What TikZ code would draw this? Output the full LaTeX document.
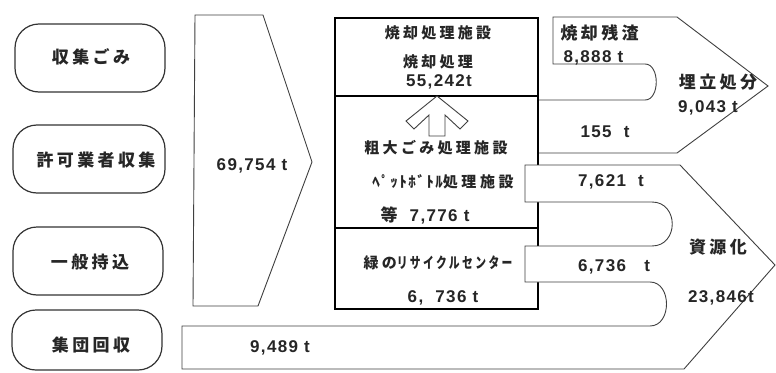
\documentclass[tikz,border=0pt]{standalone}
\usepackage{fontspec}
\setmainfont{Liberation Sans}
\newfontfamily\jp{Noto Sans CJK JP}
\begin{document}
\begin{tikzpicture}[x=1pt,y=-1pt,
  thin line/.style={draw=black!75, line width=0.9pt},
  pill/.style={draw=black!80, line width=1.2pt, rounded corners=24pt, inner sep=0pt},
  jplabel/.style={text=black!85, font={\fontsize{17}{20}\jp\bfseries\addfontfeature{LetterSpace=20}}},
  boxtext/.style={text=black!85, font={\fontsize{15}{18}\jp\bfseries\addfontfeature{LetterSpace=22}}},
  numtext/.style={text=black!85, font={\fontsize{17}{20}\selectfont\bfseries\addfontfeature{LetterSpace=8}}},
  facility/.style={draw=black, line width=1.8pt}
]
\useasboundingbox (0,0) rectangle (776,372);
\fill[white] (0,0) rectangle (776,372);

% big input pentagon
\draw[thin line] (195,15) -- (263,15) -- (312,162) -- (258,306) -- (193,306) -- cycle;
\node[numtext] (total) at (252,166) {69,754 t};

% source boxes
\node[pill, minimum width=150pt, minimum height=68pt] (src1) at (90,58) {};
\node[pill, minimum width=152pt, minimum height=68pt] (src2) at (89,159) {};
\node[pill, minimum width=150pt, minimum height=68pt] (src3) at (88,261) {};
\node[pill, minimum width=150pt, minimum height=60pt] (src4) at (87,340) {};
\node[jplabel] (t1) at (91,57) {収集ごみ};
\node[jplabel] (t2) at (96,160) {許可業者収集};
\node[jplabel] (t3) at (90,262) {一般持込};
\node[jplabel] (t4) at (91,345) {集団回収};

% landfill arrow
\draw[thin line, fill=white] (553,17) -- (677,17) -- (768,86) -- (677,153) -- (538,153) -- (538,100)
  -- (645,100) .. controls (660,100) and (660,64) .. (645,64) -- (553,64) -- cycle;

% facility column
\draw[facility] (335,18) rectangle (538,309);
\draw[facility] (335,96) -- (538,96);
\draw[facility] (335,228) -- (538,228);

% hollow up arrow
\draw[thin line, fill=white] (437,96) -- (468,121) -- (460,129) -- (445,115) -- (445,136) -- (429,136)
  -- (429,115) -- (414,129) -- (406,121) -- cycle;

% recycling arrow with strips
\draw[thin line, fill=white] (525,165) -- (680,165) -- (775,265) -- (684,369) -- (182,369) -- (182,326)
  -- (650,326) .. controls (672,326) and (672,282) .. (650,282) -- (525,282) -- (525,246)
  -- (652,246) .. controls (679,246) and (679,202) .. (652,202) -- (525,202) -- cycle;

% facility texts
\node[boxtext] (f1a) at (438,33) {焼却処理施設};
\node[boxtext] (f1b) at (438,62) {焼却処理};
\node[numtext] (f1c) at (439,82) {55,242t};
\node[boxtext] (f2a) at (436,148) {粗大ごみ処理施設};
\node[boxtext] (f2b) at (443,182) {{\addfontfeature{LetterSpace=10}ﾍﾟｯﾄﾎﾞﾄﾙ}{\addfontfeature{LetterSpace=24}処理施設}};
\node[numtext] (f2c) at (425,215) {{\jp 等}\ \ 7,776 t};
\node[boxtext] (f3a) at (438,263) {緑の\scalebox{0.72}[1]{リサイクルセンター}};
\node[numtext] (f3b) at (443,298) {6,\ \ 736 t};

% outputs
\node[jplabel, anchor=west] (r1) at (557,33) {焼却残渣};
\node[numtext, anchor=west] (r2) at (560,58) {8,888 t};
\node[jplabel] (r3) at (718,82) {埋立処分};
\node[numtext] (r4) at (708,108) {9,043 t};
\node[numtext] (r5) at (605,132) {155\ \ t};
\node[numtext] (r6) at (611,182) {7,621\ \ t};
\node[jplabel] (r7) at (718,247) {資源化};
\node[numtext] (r8) at (614,267) {6,736\ \ \ t};
\node[numtext] (r9) at (721,298) {23,846t};
\node[numtext] (r10) at (280,348) {9,489 t};
\end{tikzpicture}
\end{document}
